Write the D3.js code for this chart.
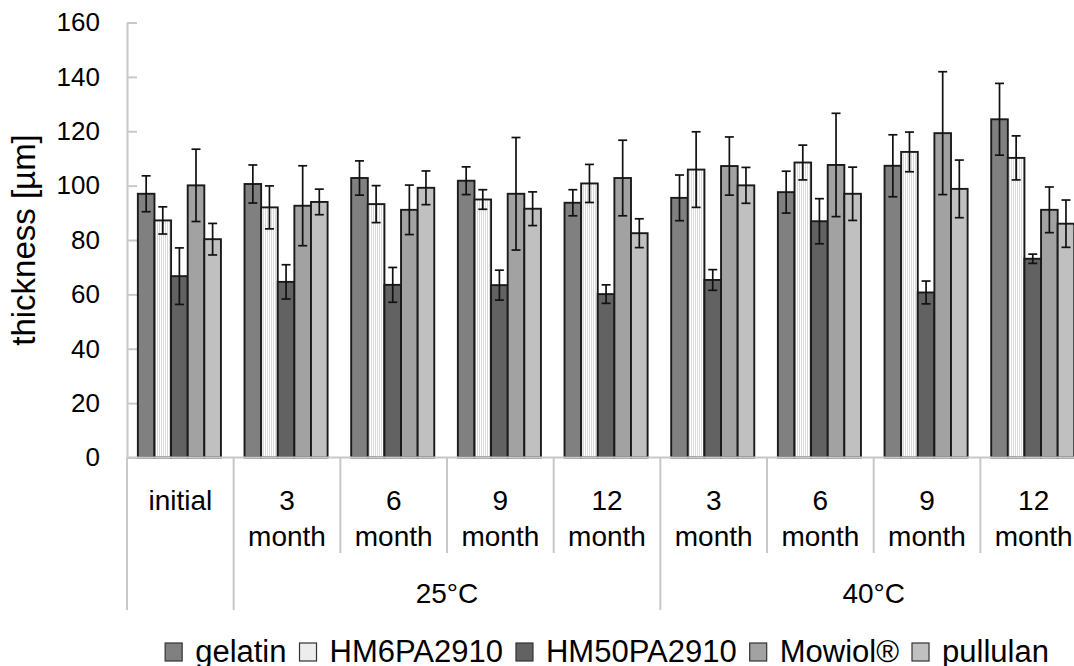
<!DOCTYPE html>
<html>
<head>
<meta charset="utf-8">
<script src="https://cdn.jsdelivr.net/npm/d3@7"></script>
<style>
  html, body { margin: 0; padding: 0; background: #fff; overflow: hidden; }
  svg { display: block; font-family: "Liberation Sans", Arial, sans-serif; }
</style>
</head>
<body>
<svg id="chart" width="1074" height="666"></svg>
<script>
// ---- data ----
const categories = ["initial", "25-3", "25-6", "25-9", "25-12", "40-3", "40-6", "40-9", "40-12"];
const categoryLines = [["initial"], ["3", "month"], ["6", "month"], ["9", "month"], ["12", "month"],
                       ["3", "month"], ["6", "month"], ["9", "month"], ["12", "month"]];
const groupLabels = ["", "25°C", "40°C"];
const groupSpans = [[0, 0], [1, 4], [5, 8]];
const seriesNames = ["gelatin", "HM6PA2910", "HM50PA2910", "Mowiol®", "pullulan"];

const gelatin      = [97.0, 100.6, 102.8, 101.8, 93.7, 95.5, 97.6, 107.3, 124.4];
const gelatinErr   = [6.6, 7.0, 6.3, 5.1, 4.8, 8.4, 7.7, 11.4, 13.2];
const hm6          = [87.2, 92.0, 93.2, 94.9, 100.8, 105.9, 108.5, 112.4, 110.2];
const hm6Err       = [5.0, 7.9, 6.8, 3.6, 7.0, 13.9, 6.4, 7.3, 8.1];
const hm50         = [66.7, 64.6, 63.5, 63.4, 60.1, 65.3, 86.9, 60.7, 73.1];
const hm50Err      = [10.4, 6.3, 6.4, 5.5, 3.4, 3.8, 8.3, 4.2, 1.7];
const mowiol       = [100.1, 92.6, 91.1, 97.0, 102.8, 107.2, 107.6, 119.3, 91.1];
const mowiolErr    = [13.3, 14.7, 9.1, 20.7, 13.9, 10.7, 19.0, 22.6, 8.4];
const pullulan     = [80.3, 94.0, 99.2, 91.5, 82.5, 100.1, 97.0, 98.8, 86.0];
const pullulanErr  = [5.8, 4.7, 6.2, 6.2, 5.3, 6.6, 9.8, 10.6, 8.7];

const yTicks = [0, 20, 40, 60, 80, 100, 120, 140, 160];

// ---- build ----
const seriesValues = [gelatin, hm6, hm50, mowiol, pullulan];
const seriesErrors = [gelatinErr, hm6Err, hm50Err, mowiolErr, pullulanErr];
const fills = ["#808080", "url(#stripes)", "#626262", "#a2a2a2", "#c0c0c0"];
const axisColor = "#c8c8c8";

const svg = d3.select("#chart");
const defs = svg.append("defs");
const pat = defs.append("pattern").attr("id", "stripes").attr("patternUnits", "userSpaceOnUse")
  .attr("width", 2).attr("height", 4);
pat.append("rect").attr("width", 2).attr("height", 4).attr("fill", "#ffffff");
pat.append("rect").attr("x", 1).attr("width", 1).attr("height", 4).attr("fill", "#dadada");

const plotLeft = 127, plotTop = 22.5, plotBottom = 457.5;
const step = 106.67;
const x = d3.scaleBand().domain(categories).range([plotLeft, plotLeft + step * categories.length]).padding(0);
const xs = d3.scaleBand().domain(seriesNames).range([0, x.bandwidth()]).paddingInner(0).paddingOuter(0.71).align(0.46);
const y = d3.scaleLinear().domain([0, 160]).range([plotBottom, plotTop]);

// y axis
const yAxis = d3.axisLeft(y).tickValues(yTicks).tickSizeInner(-10).tickSizeOuter(0).tickPadding(27);
const gy = svg.append("g").attr("transform", `translate(${plotLeft},0)`).call(yAxis);
gy.select(".domain").attr("stroke", axisColor).attr("stroke-width", 2);
gy.selectAll(".tick line").attr("stroke", axisColor).attr("stroke-width", 2);
gy.selectAll(".tick text").attr("font-size", 26).attr("fill", "#000").attr("font-family", "Liberation Sans, Arial, sans-serif");
svg.append("line").attr("x1", plotLeft).attr("x2", plotLeft).attr("y1", plotBottom).attr("y2", 610)
  .attr("stroke", axisColor).attr("stroke-width", 2);

// y title
svg.append("text").attr("transform", `translate(35,${(plotTop + plotBottom) / 2}) rotate(-90)`)
  .attr("text-anchor", "middle").attr("font-size", 33).text("thickness [µm]");

// bars
const gBars = svg.append("g");
seriesNames.forEach((s, si) => {
  gBars.selectAll(null).data(seriesValues[si]).enter().append("rect")
    .attr("x", (d, i) => x(categories[i]) + xs(s))
    .attr("y", d => y(d))
    .attr("width", xs.bandwidth())
    .attr("height", d => y(0) - y(d))
    .attr("fill", fills[si])
    .attr("stroke", "#1a1a1a").attr("stroke-width", 1.9);
});

// error bars
const gErr = svg.append("g").attr("stroke", "#111").attr("stroke-width", 1.7);
seriesNames.forEach((s, si) => {
  seriesValues[si].forEach((v, i) => {
    const cx = x(categories[i]) + xs(s) + xs.bandwidth() / 2;
    const e = seriesErrors[si][i];
    gErr.append("line").attr("x1", cx).attr("x2", cx).attr("y1", y(v + e)).attr("y2", y(v - e));
    gErr.append("line").attr("x1", cx - 4.5).attr("x2", cx + 4.5).attr("y1", y(v + e)).attr("y2", y(v + e));
    gErr.append("line").attr("x1", cx - 4.5).attr("x2", cx + 4.5).attr("y1", y(v - e)).attr("y2", y(v - e));
  });
});

// x axis line
const xEnd = plotLeft + step * categories.length;
svg.append("line").attr("x1", plotLeft).attr("x2", xEnd).attr("y1", plotBottom).attr("y2", plotBottom)
  .attr("stroke", axisColor).attr("stroke-width", 2);

// separators
const majorIdx = groupSpans.map(g => g[1] + 1);
categories.forEach((c, i) => {
  const bx = x(c) + x.bandwidth();
  const major = majorIdx.includes(i + 1);
  svg.append("line").attr("x1", bx).attr("x2", bx).attr("y1", plotBottom).attr("y2", major ? 610 : 553)
    .attr("stroke", axisColor).attr("stroke-width", 2);
});

// category labels
categories.forEach((c, i) => {
  const cx = x(c) + x.bandwidth() / 2;
  const t = svg.append("text").attr("x", cx).attr("y", 510).attr("text-anchor", "middle").attr("font-size", 28);
  categoryLines[i].forEach((ln, li) => {
    t.append("tspan").attr("x", cx).attr("y", 510 + li * 36).text(ln);
  });
});

// group labels
groupSpans.forEach((sp, gi) => {
  if (!groupLabels[gi]) return;
  const gx = (x(categories[sp[0]]) + x(categories[sp[1]]) + x.bandwidth()) / 2;
  svg.append("text").attr("x", gx).attr("y", 603).attr("text-anchor", "middle").attr("font-size", 28)
    .text(groupLabels[gi]);
});

// legend
const legend = svg.append("g");
let lx = 0;
const sw = 17, gapSw = 13, gapItem = 13;
seriesNames.forEach((s, si) => {
  const it = legend.append("g").attr("transform", `translate(${lx},0)`);
  it.append("rect").attr("x", 0).attr("y", 643).attr("width", sw).attr("height", sw + 1)
    .attr("fill", fills[si]).attr("stroke", "#333").attr("stroke-width", 1.2);
  const tx = it.append("text").attr("x", sw + gapSw).attr("y", 662).attr("font-size", 31).text(s);
  lx += sw + gapSw + tx.node().getComputedTextLength() + gapItem;
});
const legendW = lx - gapItem;
const plotCenter = (plotLeft + xEnd) / 2;
legend.attr("transform", `translate(${plotCenter - legendW / 2},0)`);
</script>
</body>
</html>
